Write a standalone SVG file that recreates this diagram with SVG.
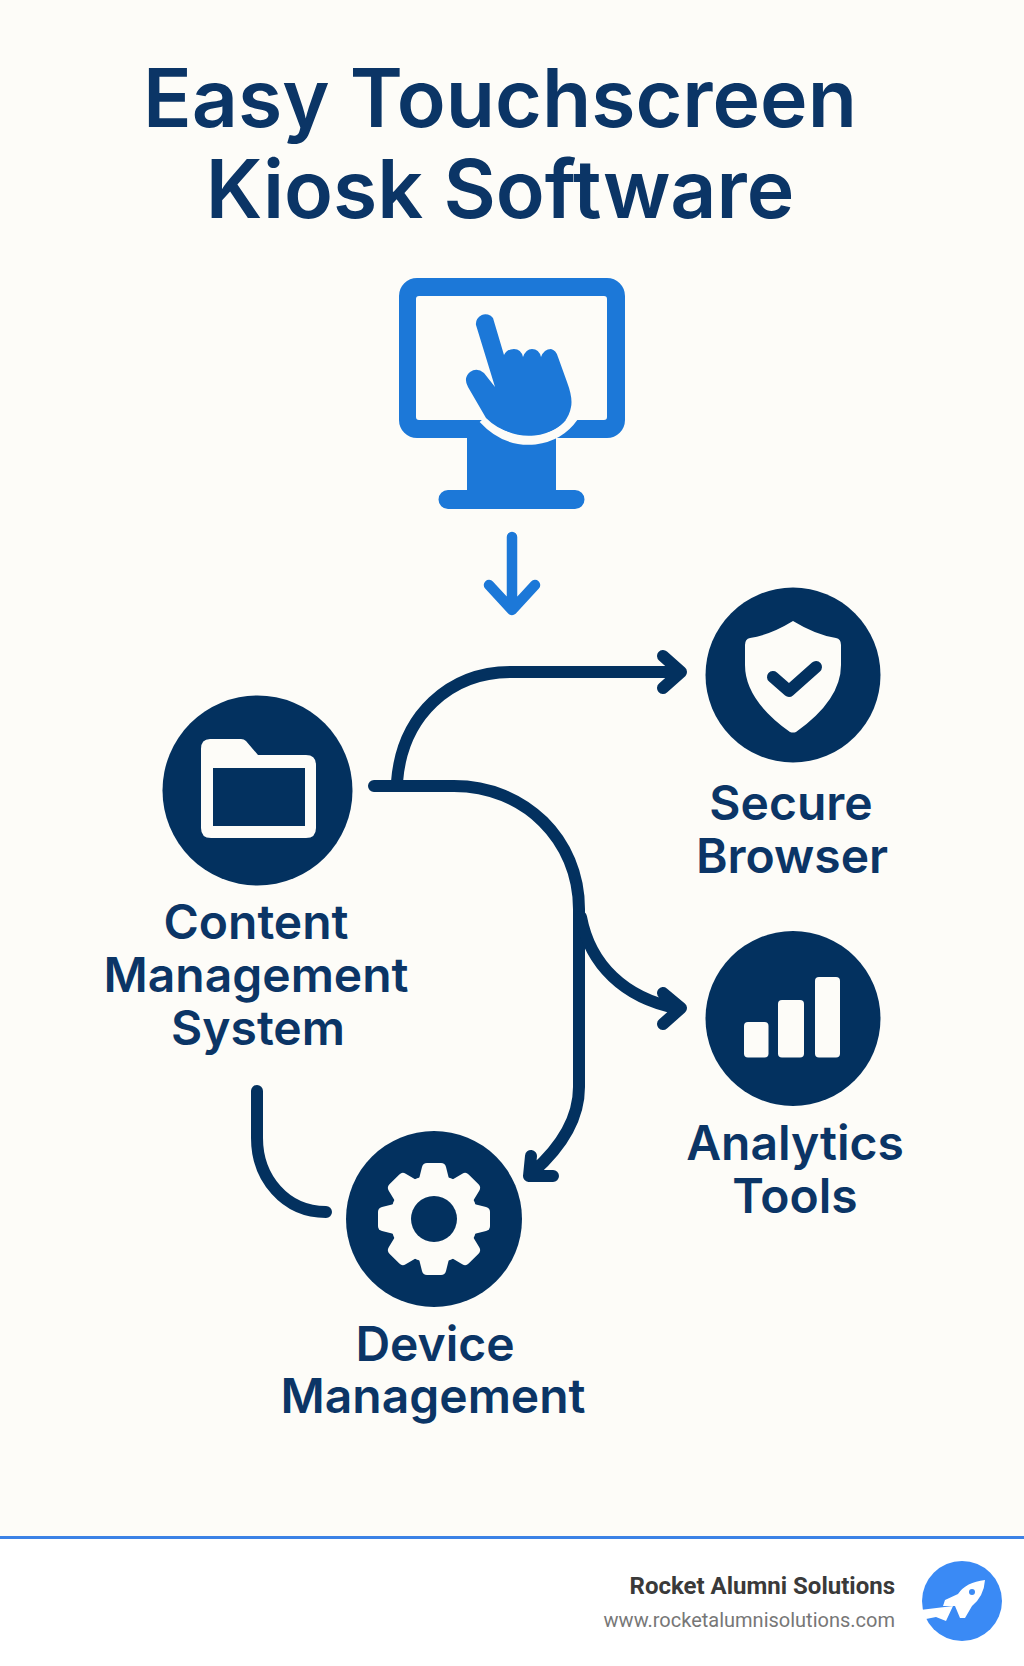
<svg xmlns="http://www.w3.org/2000/svg" width="1024" height="1666" viewBox="0 0 1024 1666">
<style>
.t{font-family:Inter,"Liberation Sans",sans-serif;font-weight:600;fill:#0b3566;text-anchor:middle}
.title{font-size:80.500px}
.lab{font-size:48px}
.c{fill:#03315f}
.w{fill:#fdfcf8}
.b{fill:#1c78d8}
.ln{fill:none;stroke:#03315f;stroke-width:12;stroke-linecap:round;stroke-linejoin:round}
.bl{fill:none;stroke:#1c78d8;stroke-width:10.500;stroke-linecap:round;stroke-linejoin:round}
</style>
<defs>
<path id="tooth" class="w" d="M-15,-40L-12,-52Q-11,-56 -7,-56H7Q11,-56 12,-52L15,-40Z"/>
</defs>
<rect width="1024" height="1666" fill="#fdfcf8"/>
<g id="title">
<text class="t title" x="500" y="127">Easy Touchscreen</text>
<text class="t title" x="500" y="218">Kiosk Software</text>
</g>
<g id="kiosk">
<path class="b" fill-rule="evenodd" d="M417,278H607A18,18 0 0 1 625,296V420A18,18 0 0 1 607,438H556V490H575A9.500,9.500 0 0 1 575,509H448A9.500,9.500 0 0 1 448,490H467V438H417A18,18 0 0 1 399,420V296A18,18 0 0 1 417,278ZM419,296A3,3 0 0 0 416,299V417A3,3 0 0 0 419,420H604A3,3 0 0 0 607,417V299A3,3 0 0 0 604,296Z"/>
<path fill="none" stroke="#fdfcf8" stroke-width="9" d="M483,419Q505,443 535,440Q560,437 574,417"/>
<path class="w" d="M486,420H574V417H486Z"/>
<path class="b" d="M476,325A9.500,9.500 0 0 1 493,318L504,355Q507,349 514,349Q521,349 523,357Q526,349 532,349Q539,349 541,357Q544,349 551,349Q556,350 558,357L567,382Q573,398 571,407Q568,425 548,432Q535,436 520,434Q500,432 486,418L468,387Q463,378 470,372Q477,367 484,373L495,387Z"/>
</g>
<g id="connectors">
<path class="bl" d="M512,537V609M489,585L512,610L535,585"/>
<path class="ln" d="M397,782C402,715 450,672 511,672H679M663,656L681,672L663,688"/>
<path class="ln" d="M374,786H454C525,786 579,840 579,909V1087C579,1120 560,1148 533,1172M531,1156L529,1176L553,1176"/>
<path class="ln" d="M581,917C590,965 625,998 676,1008M663,993L681,1008L663,1024"/>
<path class="ln" d="M257,1091V1138C257,1178 285,1212 326,1212"/>
</g>
<g id="cms">
<circle class="c" cx="257.500" cy="790.500" r="95"/>
<path class="w" fill-rule="evenodd" d="M210,739H241Q244,739 246,741L258,755H306Q316,755 316,765V828Q316,838 306,838H211Q201,838 201,828V749Q201,739 210,739ZM213,768V826H305V768Z"/>
<text class="t lab" x="256" y="939">Content</text>
<text class="t lab" x="256" y="992">Management</text>
<text class="t lab" x="258" y="1045">System</text>
</g>
<g id="secure">
<circle class="c" cx="793" cy="675" r="87.500"/>
<path class="w" d="M793,621Q770,635 750,638Q745,639 745,645V665Q745,700 790,732Q793,733 796,732Q841,700 841,665V645Q841,639 836,638Q816,635 793,621Z"/>
<path fill="none" stroke="#03315f" stroke-width="12" stroke-linecap="round" stroke-linejoin="round" d="M773,677L789,691L816,667"/>
<text class="t lab" x="791" y="820">Secure</text>
<text class="t lab" x="792" y="873">Browser</text>
</g>
<g id="analytics">
<circle class="c" cx="793" cy="1018.500" r="87.500"/>
<rect class="w" x="744" y="1022" width="24.500" height="35.500" rx="4"/>
<rect class="w" x="778" y="1000" width="26" height="57.500" rx="4"/>
<rect class="w" x="815" y="977" width="25" height="80.500" rx="4"/>
<text class="t lab" x="795" y="1160">Analytics</text>
<text class="t lab" x="795" y="1213">Tools</text>
</g>
<g id="device">
<circle class="c" cx="434" cy="1219" r="88"/>
<g transform="translate(434 1219)">
<circle class="w" r="44"/>
<use href="#tooth"/>
<use href="#tooth" transform="rotate(45)"/>
<use href="#tooth" transform="rotate(90)"/>
<use href="#tooth" transform="rotate(135)"/>
<use href="#tooth" transform="rotate(180)"/>
<use href="#tooth" transform="rotate(225)"/>
<use href="#tooth" transform="rotate(270)"/>
<use href="#tooth" transform="rotate(315)"/>
<circle class="c" r="23"/>
</g>
<text class="t lab" x="435" y="1361">Device</text>
<text class="t lab" x="433" y="1413">Management</text>
</g>
<g id="footer">
<rect y="1539" width="1024" height="127" fill="#ffffff"/>
<rect y="1536" width="1024" height="3" fill="#3c82e6"/>
<text x="895" y="1594" text-anchor="end" font-family="Roboto,sans-serif" font-weight="700" font-size="24" fill="#3a3a3a">Rocket Alumni Solutions</text>
<text x="895" y="1627" text-anchor="end" font-family="Roboto,sans-serif" font-size="20" fill="#777777">www.rocketalumnisolutions.com</text>
<circle cx="962" cy="1601" r="40" fill="#3a8af5"/>
<path fill="#ffffff" d="M920,1610L953,1606L946,1621L936,1617L926,1619Z"/>
<path fill="#ffffff" d="M985,1580Q966,1582 958,1594L945,1600L943,1606L955,1606L960,1618L965,1618L972,1606Q984,1596 985,1580Z"/>
<circle cx="972" cy="1592" r="3" fill="#3a8af5"/>
</g>
</svg>
